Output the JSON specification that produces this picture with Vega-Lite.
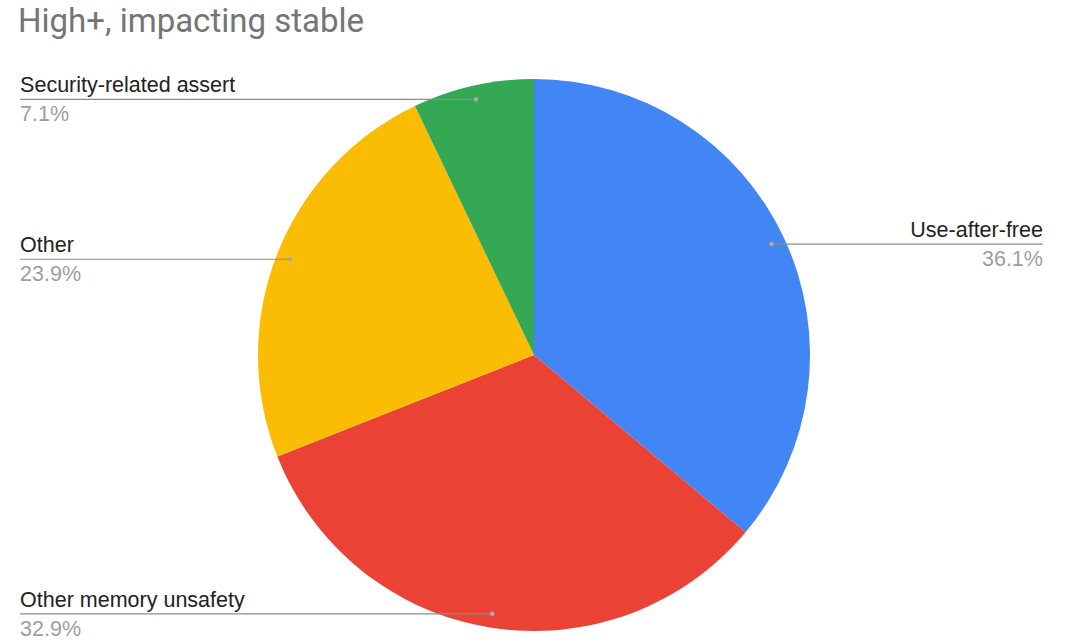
{
  "$schema": "https://vega.github.io/schema/vega-lite/v6.json",
  "width": 1068,
  "height": 578,
  "padding": {"left": 0, "right": 0, "top": 6, "bottom": 0},
  "background": "white",
  "config": {"view": {"stroke": null}},
  "title": {"text": "High+, impacting stable", "anchor": "start", "dx": 18, "fontSize": 33, "font": "Roboto", "fontWeight": "normal", "color": "#757575", "offset": 27},
  "data": {"values": [
    {"category": "Use-after-free", "percent": 36.1, "rank": 1},
    {"category": "Other memory unsafety", "percent": 32.9, "rank": 2},
    {"category": "Other", "percent": 23.9, "rank": 3},
    {"category": "Security-related assert", "percent": 7.1, "rank": 4}
  ]},
  "transform": [
    {"window": [{"op": "sum", "field": "percent", "as": "cum"}], "sort": [{"field": "rank"}], "frame": [null, 0]},
    {"joinaggregate": [{"op": "sum", "field": "percent", "as": "total"}]},
    {"calculate": "2*PI*(datum.cum - datum.percent/2)/datum.total", "as": "mid"},
    {"calculate": "0.95*sin(datum.mid)", "as": "dotX"},
    {"calculate": "0.95*cos(datum.mid)", "as": "dotY"},
    {"calculate": "datum.dotX >= 0 ? 1.844 : -1.862", "as": "labelX"},
    {"calculate": "format(datum.percent, '.1f') + '%'", "as": "pctLabel"}
  ],
  "layer": [
    {
      "mark": {"type": "arc", "outerRadius": 276},
      "encoding": {
        "theta": {"field": "percent", "type": "quantitative", "stack": true},
        "order": {"field": "rank", "type": "quantitative"},
        "color": {"field": "category", "type": "nominal", "legend": null,
          "scale": {"domain": ["Use-after-free", "Other memory unsafety", "Other", "Security-related assert"], "range": ["#4285F4", "#EA4335", "#FBBC04", "#34A853"]}}
      }
    },
    {
      "mark": {"type": "rule", "color": "#8c8c8c", "strokeWidth": 1.2},
      "encoding": {
        "x": {"field": "labelX", "type": "quantitative", "scale": {"domain": [-1.9348, 1.9348]}, "axis": null},
        "x2": {"field": "dotX"},
        "y": {"field": "dotY", "type": "quantitative", "scale": {"domain": [-1.0471, 1.0471]}, "axis": null}
      }
    },
    {
      "mark": {"type": "point", "filled": true, "size": 22, "color": "#a8a8a8", "opacity": 1},
      "encoding": {
        "x": {"field": "dotX", "type": "quantitative", "scale": {"domain": [-1.9348, 1.9348]}, "axis": null},
        "y": {"field": "dotY", "type": "quantitative", "scale": {"domain": [-1.0471, 1.0471]}, "axis": null}
      }
    },
    {
      "transform": [{"filter": "datum.dotX < 0"}],
      "mark": {"type": "text", "align": "left", "baseline": "alphabetic", "dy": -7, "fontSize": 21.5, "font": "Liberation Sans", "color": "#222222"},
      "encoding": {
        "x": {"field": "labelX", "type": "quantitative", "scale": {"domain": [-1.9348, 1.9348]}, "axis": null},
        "y": {"field": "dotY", "type": "quantitative", "scale": {"domain": [-1.0471, 1.0471]}, "axis": null},
        "text": {"field": "category"}
      }
    },
    {
      "transform": [{"filter": "datum.dotX < 0"}],
      "mark": {"type": "text", "align": "left", "baseline": "top", "dy": 5, "fontSize": 21.5, "font": "Liberation Sans", "color": "#9e9e9e"},
      "encoding": {
        "x": {"field": "labelX", "type": "quantitative", "scale": {"domain": [-1.9348, 1.9348]}, "axis": null},
        "y": {"field": "dotY", "type": "quantitative", "scale": {"domain": [-1.0471, 1.0471]}, "axis": null},
        "text": {"field": "pctLabel"}
      }
    },
    {
      "transform": [{"filter": "datum.dotX >= 0"}],
      "mark": {"type": "text", "align": "right", "baseline": "alphabetic", "dy": -7, "fontSize": 21.5, "font": "Liberation Sans", "color": "#222222"},
      "encoding": {
        "x": {"field": "labelX", "type": "quantitative", "scale": {"domain": [-1.9348, 1.9348]}, "axis": null},
        "y": {"field": "dotY", "type": "quantitative", "scale": {"domain": [-1.0471, 1.0471]}, "axis": null},
        "text": {"field": "category"}
      }
    },
    {
      "transform": [{"filter": "datum.dotX >= 0"}],
      "mark": {"type": "text", "align": "right", "baseline": "top", "dy": 5, "fontSize": 21.5, "font": "Liberation Sans", "color": "#9e9e9e"},
      "encoding": {
        "x": {"field": "labelX", "type": "quantitative", "scale": {"domain": [-1.9348, 1.9348]}, "axis": null},
        "y": {"field": "dotY", "type": "quantitative", "scale": {"domain": [-1.0471, 1.0471]}, "axis": null},
        "text": {"field": "pctLabel"}
      }
    }
  ]
}
